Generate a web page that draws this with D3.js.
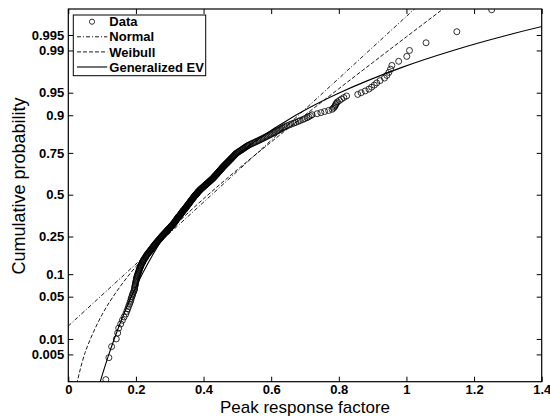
<!DOCTYPE html>
<html>
<head>
<meta charset="utf-8">
<script src="https://cdn.jsdelivr.net/npm/d3@7"></script>
<style>
  body { margin: 0; background: #fff; }
  text { font-family: "Liberation Sans", Arial, Helvetica, sans-serif; }
</style>
</head>
<body>
<div id="chart"></div>
<script>
// sorted peak response factors (lower tail, body, upper tail)
const peakLow = [0.111, 0.120, 0.128, 0.142, 0.146, 0.149, 0.155, 0.160, 0.165, 0.170, 0.173, 0.176,
  0.178, 0.181, 0.183, 0.185, 0.186, 0.188, 0.190, 0.191, 0.193, 0.195,
  0.196, 0.196, 0.197, 0.198, 0.199, 0.199, 0.200, 0.201, 0.201, 0.202, 0.203,
  0.204, 0.205, 0.206, 0.207, 0.208, 0.209, 0.210, 0.210,
  0.212, 0.213, 0.214, 0.215, 0.216, 0.217, 0.219, 0.220, 0.221, 0.222,
  0.223, 0.225, 0.226, 0.228, 0.229, 0.230, 0.232, 0.233, 0.235,
  0.236, 0.238, 0.240, 0.241, 0.243, 0.244, 0.246, 0.247, 0.249, 0.250,
  0.251, 0.253, 0.254, 0.256, 0.257, 0.259, 0.260, 0.262, 0.263, 0.265, 0.266];

const peakMid = [0.268, 0.269, 0.271, 0.272, 0.274, 0.275, 0.276, 0.278, 0.279, 0.281, 0.282, 0.284,
  0.285, 0.287, 0.288, 0.290, 0.291, 0.292, 0.294, 0.295, 0.297, 0.298, 0.300, 0.301, 0.303, 0.304, 0.305, 0.307,
  0.308, 0.309, 0.310, 0.312, 0.313, 0.314, 0.315, 0.316, 0.317, 0.318, 0.319, 0.320, 0.321, 0.322,
  0.323, 0.324, 0.325, 0.326, 0.328, 0.329, 0.330, 0.331, 0.332, 0.333, 0.334, 0.335, 0.336, 0.337,
  0.338, 0.339, 0.340, 0.341, 0.343, 0.344, 0.345, 0.346, 0.347, 0.348, 0.349, 0.350,
  0.351, 0.352, 0.353, 0.354, 0.355, 0.356, 0.357, 0.358, 0.359, 0.360, 0.361, 0.362, 0.363,
  0.364, 0.365, 0.366, 0.367, 0.368, 0.369, 0.370, 0.371, 0.372, 0.373, 0.374, 0.375, 0.376,
  0.378, 0.379, 0.380, 0.381, 0.382, 0.383, 0.384, 0.385, 0.387, 0.388, 0.389,
  0.390, 0.392, 0.393, 0.395, 0.396, 0.398, 0.399, 0.401, 0.402, 0.404, 0.405, 0.407, 0.408,
  0.410, 0.411, 0.413, 0.414, 0.416, 0.417, 0.419, 0.420, 0.422, 0.423, 0.425, 0.426,
  0.428, 0.429, 0.430, 0.431, 0.433, 0.434, 0.435, 0.436, 0.438, 0.439, 0.440, 0.441, 0.443,
  0.444, 0.445, 0.446, 0.448, 0.449, 0.450, 0.451, 0.453, 0.454, 0.455, 0.456, 0.458,
  0.459, 0.460, 0.462, 0.463, 0.465, 0.466, 0.468, 0.469, 0.471, 0.472, 0.474, 0.475, 0.477,
  0.478, 0.480, 0.481, 0.483, 0.484, 0.486, 0.487, 0.489, 0.490, 0.492, 0.493, 0.495, 0.496];

const peakHigh = [0.499, 0.501, 0.504, 0.506, 0.509, 0.512, 0.514, 0.517, 0.519, 0.522, 0.524, 0.527, 0.530, 0.532,
  0.536, 0.540, 0.544, 0.548, 0.552, 0.556, 0.560, 0.564, 0.568, 0.572, 0.576, 0.580, 0.584,
  0.588, 0.592, 0.596, 0.600, 0.604, 0.608, 0.612, 0.617, 0.621, 0.625, 0.629, 0.633, 0.637,
  0.641, 0.647, 0.654, 0.660, 0.667, 0.673, 0.680, 0.686, 0.693, 0.699, 0.706,
  0.711, 0.716, 0.721, 0.736, 0.747, 0.758, 0.770, 0.780, 0.784, 0.787, 0.789, 0.791, 0.793,
  0.796, 0.802, 0.808, 0.815, 0.823, 0.856, 0.866, 0.878, 0.889, 0.897, 0.905, 0.912, 0.922,
  0.935, 0.942, 0.948, 0.953, 0.957, 0.977, 1.001, 1.009, 1.058, 1.149, 1.252];

// fitted curves as (x, probability)
const normalX = [0, 0.2, 0.4, 0.6, 0.8, 1.0, 1.1];
const normalP = [0.0171, 0.1318, 0.452, 0.8103, 0.9697, 0.99799, 0.99963];

const weibullX = [0.025, 0.05, 0.1, 0.15, 0.2, 0.25, 0.3, 0.4, 0.5, 0.6, 0.7, 0.8, 0.9, 1.0, 1.1, 1.15];
const weibullP = [0.00113, 0.00552, 0.0266, 0.0659, 0.1233, 0.1968, 0.283, 0.4737, 0.6568, 0.8025,
  0.9005, 0.9563, 0.9834, 0.99456, 0.99847, 0.99924];

const gevX = [0.0905, 0.1021, 0.1199, 0.1359, 0.1548, 0.1863, 0.2184, 0.2636, 0.3015, 0.3770,
  0.4744, 0.5474, 0.6725, 0.8024, 0.9868, 1.1379, 1.3003, 1.4282];
const gevP = [0.001, 0.002, 0.005, 0.01, 0.02, 0.05, 0.1, 0.2, 0.3, 0.5, 0.7, 0.8, 0.9, 0.95,
  0.98, 0.99, 0.995, 0.997];

// tick labels
const probTicks = [0.005, 0.01, 0.05, 0.1, 0.25, 0.5, 0.75, 0.9, 0.95, 0.99, 0.995];
const probLabels = ["0.005", "0.01", "0.05", "0.1", "0.25", "0.5", "0.75", "0.9", "0.95", "0.99", "0.995"];
const xTicks = [0, 0.2, 0.4, 0.6, 0.8, 1, 1.2, 1.4];
const xLabels = ["0", "0.2", "0.4", "0.6", "0.8", "1", "1.2", "1.4"];

const svgWidth = 550;
const svgHeight = 416;
const margin = { top: 9, right: 8.3, bottom: 34.3, left: 68.3 };
const width = svgWidth - margin.left - margin.right;
const height = svgHeight - margin.top - margin.bottom;

// inverse standard normal cdf (Acklam), used for the probability axis
function norminv(p) {
  const a = [-39.69683028665376, 220.9460984245205, -275.9285104469687, 138.3577518672690, -30.66479806614716, 2.506628277459239];
  const b = [-54.47609879822406, 161.5858368580409, -155.6989798598866, 66.80131188771972, -13.28068155288572];
  const c = [-0.007784894002430293, -0.3223964580411365, -2.400758277161838, -2.549732539343734, 4.374664141464968, 2.938163982698783];
  const d = [0.007784695709041462, 0.3224671290700398, 2.445134137142996, 3.754408661907416];
  const pl = 0.02425;
  let q, r;
  if (p < pl) {
    q = Math.sqrt(-2 * Math.log(p));
    return (((((c[0] * q + c[1]) * q + c[2]) * q + c[3]) * q + c[4]) * q + c[5]) /
      ((((d[0] * q + d[1]) * q + d[2]) * q + d[3]) * q + 1);
  }
  if (p > 1 - pl) {
    q = Math.sqrt(-2 * Math.log(1 - p));
    return -(((((c[0] * q + c[1]) * q + c[2]) * q + c[3]) * q + c[4]) * q + c[5]) /
      ((((d[0] * q + d[1]) * q + d[2]) * q + d[3]) * q + 1);
  }
  q = p - 0.5;
  r = q * q;
  return (((((a[0] * r + a[1]) * r + a[2]) * r + a[3]) * r + a[4]) * r + a[5]) * q /
    (((((b[0] * r + b[1]) * r + b[2]) * r + b[3]) * r + b[4]) * r + 1);
}

const svg = d3.select("#chart")
  .append("svg")
  .attr("width", svgWidth)
  .attr("height", svgHeight);

const chartGroup = svg.append("g")
  .attr("transform", `translate(${margin.left}, ${margin.top})`);

const xScale = d3.scaleLinear().domain([0, 1.4]).range([0, width]);
const zScale = d3.scaleLinear().domain([-3.016, 2.995]).range([height, 0]);
const yProb = p => zScale(norminv(p));

svg.append("defs").append("clipPath")
  .attr("id", "plotClip")
  .append("rect")
  .attr("width", width)
  .attr("height", height);

// axes with inward ticks on all four sides
const tickFont = g => g.selectAll("text")
  .attr("font-size", 13)
  .attr("font-weight", "bold")
  .attr("fill", "#000");

chartGroup.append("g")
  .attr("transform", `translate(0, ${height})`)
  .call(d3.axisBottom(xScale).tickValues(xTicks).tickFormat((d, i) => xLabels[i])
    .tickSizeInner(-5).tickSizeOuter(0).tickPadding(3))
  .call(g => g.select(".domain").remove())
  .call(tickFont);

chartGroup.append("g")
  .call(d3.axisTop(xScale).tickValues(xTicks).tickFormat("")
    .tickSizeInner(-5).tickSizeOuter(0))
  .call(g => g.select(".domain").remove());

chartGroup.append("g")
  .call(d3.axisLeft(zScale).tickValues(probTicks.map(norminv)).tickFormat((d, i) => probLabels[i])
    .tickSizeInner(-5).tickSizeOuter(0).tickPadding(4))
  .call(g => g.select(".domain").remove())
  .call(tickFont);

chartGroup.append("g")
  .attr("transform", `translate(${width}, 0)`)
  .call(d3.axisRight(zScale).tickValues(probTicks.map(norminv)).tickFormat("")
    .tickSizeInner(-5).tickSizeOuter(0))
  .call(g => g.select(".domain").remove());

chartGroup.append("rect")
  .attr("width", width)
  .attr("height", height)
  .attr("fill", "none")
  .attr("stroke", "#000")
  .attr("stroke-width", 1.2);

// plotted content
const plot = chartGroup.append("g").attr("clip-path", "url(#plotClip)");

const line = d3.line()
  .x(d => xScale(d[0]))
  .y(d => yProb(d[1]))
  .curve(d3.curveCatmullRom);

plot.append("path")
  .datum(normalX.map((x, i) => [x, normalP[i]]))
  .attr("d", line)
  .attr("fill", "none")
  .attr("stroke", "#000")
  .attr("stroke-width", 0.9)
  .attr("stroke-dasharray", "4,2,1,2");

plot.append("path")
  .datum(weibullX.map((x, i) => [x, weibullP[i]]))
  .attr("d", line)
  .attr("fill", "none")
  .attr("stroke", "#000")
  .attr("stroke-width", 0.9)
  .attr("stroke-dasharray", "4,2");

plot.append("path")
  .datum(gevX.map((x, i) => [x, gevP[i]]))
  .attr("d", line)
  .attr("fill", "none")
  .attr("stroke", "#000")
  .attr("stroke-width", 1.1);

// data: sorted values at plotting positions (i - 0.5) / n
const peaks = peakLow.concat(peakMid, peakHigh);
const n = peaks.length;

plot.selectAll("circle")
  .data(peaks)
  .enter()
  .append("circle")
  .attr("cx", d => xScale(d))
  .attr("cy", (d, i) => yProb((i + 0.5) / n))
  .attr("r", 3)
  .attr("fill", "none")
  .attr("stroke", "#000")
  .attr("stroke-width", 0.8);

// axis labels
chartGroup.append("text")
  .attr("x", width / 2)
  .attr("y", height + 31.5)
  .attr("text-anchor", "middle")
  .attr("font-size", 17)
  .text("Peak response factore");

svg.append("text")
  .attr("transform", "rotate(-90)")
  .attr("x", -186)
  .attr("y", 25)
  .attr("text-anchor", "middle")
  .attr("font-size", 18)
  .text("Cumulative probability");

// legend
const legend = svg.append("g").attr("transform", "translate(73.3, 15)");

legend.append("rect")
  .attr("width", 132.4)
  .attr("height", 60.7)
  .attr("fill", "#fff")
  .attr("stroke", "#000")
  .attr("stroke-width", 1);

const legendRows = ["Data", "Normal", "Weibull", "Generalized EV"];
const legendDash = [null, "4,2,1,2", "4,2", null];

legendRows.forEach((name, i) => {
  const cy = 6.7 + i * 15.1;
  if (i === 0) {
    legend.append("circle")
      .attr("cx", 18.7).attr("cy", cy).attr("r", 2.6)
      .attr("fill", "none").attr("stroke", "#000").attr("stroke-width", 0.8);
  } else {
    legend.append("line")
      .attr("x1", 3.7).attr("x2", 34).attr("y1", cy).attr("y2", cy)
      .attr("stroke", "#000")
      .attr("stroke-width", i === 3 ? 1.1 : 0.9)
      .attr("stroke-dasharray", legendDash[i]);
  }
  legend.append("text")
    .attr("x", 36)
    .attr("y", cy + 4.6)
    .attr("font-size", 13)
    .attr("font-weight", "bold")
    .text(name);
});
</script>
</body>
</html>
